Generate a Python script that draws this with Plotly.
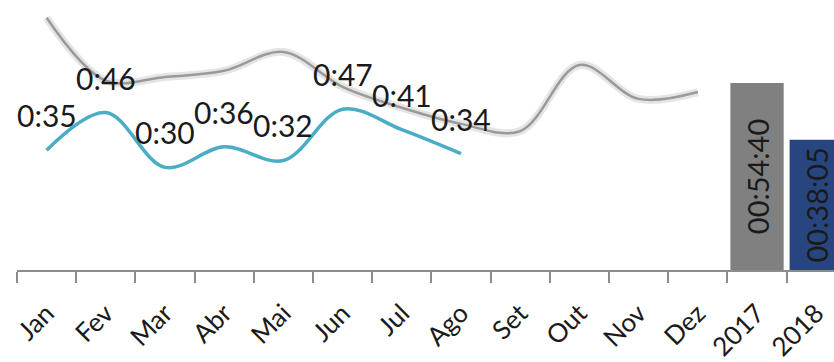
import plotly.graph_objects as go

categories = ["Jan", "Fev", "Mar", "Abr", "Mai", "Jun", "Jul", "Ago", "Set", "Out", "Nov", "Dez", "2017", "2018"]
months = categories[:12]
# 2017 monthly average (minutes)
gray_2017 = [73.7, 55.3, 56.4, 58.2, 63.7, 53.5, 47.4, 42.7, 40.6, 59.9, 50.0, 52.0]
# 2018 monthly average (minutes)
blue_2018 = [35, 46, 30, 36, 32, 47, 41, 34]
# yearly averages in seconds
bar_years = ["2017", "2018"]
bar_seconds = [54 * 60 + 40, 38 * 60 + 5]


def hms(s):
    return f"{s // 3600:02d}:{(s % 3600) // 60:02d}:{s % 60:02d}"


def hm(m):
    return f"{int(m) // 60}:{int(m) % 60:02d}"


FONT = "Lato"
fig = go.Figure()

fig.add_trace(go.Bar(
    x=bar_years, y=[s / 60 for s in bar_seconds],
    text=[hms(s) for s in bar_seconds], textposition="inside",
    insidetextanchor="middle", textangle=-90,
    textfont=dict(family=FONT, size=29, color="#1a1a1a"),
    marker=dict(color=["#808080", "#27467f"], line=dict(width=0)),
    showlegend=False, hoverinfo="skip"))

# soft shadow under the 2017 line
fig.add_trace(go.Scatter(
    x=months, y=gray_2017, mode="lines",
    line=dict(color="rgba(0,0,0,0.10)", width=8, shape="spline", smoothing=1.0),
    showlegend=False, hoverinfo="skip"))
fig.add_trace(go.Scatter(
    x=months, y=gray_2017, mode="lines",
    line=dict(color="#9a9a9a", width=2.5, shape="spline", smoothing=1.0),
    showlegend=False))
fig.add_trace(go.Scatter(
    x=months[:len(blue_2018)], y=blue_2018, mode="lines",
    line=dict(color="#4bacc6", width=3.5, shape="spline", smoothing=1.0),
    showlegend=False))

for m, v in zip(months, blue_2018):
    fig.add_annotation(x=m, y=v, text=hm(v), showarrow=False, yshift=35,
                       font=dict(family=FONT, size=30, color="#1a1a1a"))

fig.update_layout(
    width=834, height=362,
    margin=dict(l=17, r=0, t=0, b=92, autoexpand=False),
    paper_bgcolor="white", plot_bgcolor="white",
    bargap=0.1,
    xaxis=dict(type="category", categoryorder="array", categoryarray=categories,
               range=[-0.5, 13.3], tickson="boundaries", ticks="outside",
               ticklen=11, tickcolor="#8c8c8c", tickwidth=1.5,
               showline=True, linecolor="#8c8c8c", linewidth=1.5,
               showgrid=False, tickangle=-45, ticklabelstandoff=16,
               tickfont=dict(family=FONT, size=26, color="#1a1a1a"),
               automargin=False),
    yaxis=dict(range=[0, 78.9], visible=False, showgrid=False, zeroline=False,
               automargin=False),
)

fig.write_html("out.html")
